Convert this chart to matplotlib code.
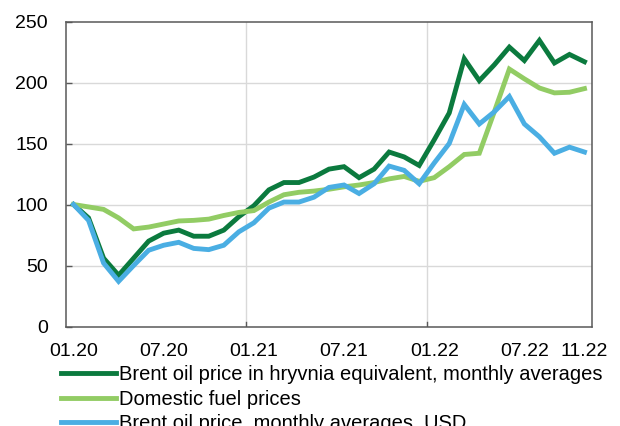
import matplotlib.pyplot as plt
import numpy

plt.rcParams['font.family'] = ['Liberation Sans', 'DejaVu Sans']

#monthly categories 01.20 ... 11.22
months = [f"{m:02d}.{y}" for y in (20, 21, 22) for m in range(1, 13)][:35]

#index values (01.20 = 100)
brent_uah = [100, 89, 56, 42, 56, 70, 76.5, 79, 74, 74, 79, 90,
             99, 112, 118, 118, 122.5, 129, 131, 122, 129, 143, 139, 132,
             153, 175, 219.5, 201.5, 214.5, 229, 218, 234.5, 216, 223, 217]
domestic_fuel = [100, 98, 96, 89, 80, 81.5, 84, 86.5, 87, 88, 91, 93.5,
                 95, 102, 108, 110, 111, 112.5, 114.5, 116, 118, 121, 123, 119,
                 122, 131, 141, 142, 176, 211, 203, 195.5, 191.5, 192, 195]
brent_usd = [100, 87, 52, 37, 50, 62.5, 66.6, 69, 64, 63, 66.6, 77.6,
             85, 97, 102, 102, 106, 114, 116, 109, 117, 131.5, 128, 117,
             134, 150, 182, 166, 176, 188.5, 166, 155.5, 142, 147, 143]

series_labels = ["Brent oil price in hryvnia equivalent, monthly averages",
                 "Domestic fuel prices",
                 "Brent oil price, monthly averages, USD"]
series_colors = ["#0B7A3E", "#92CC64", "#4AAEE3"]

xtick_labels = ["01.20", "07.20", "01.21", "07.21", "01.22", "07.22", "11.22"]
yticks = [0, 50, 100, 150, 200, 250]

fig = plt.figure(figsize=(6.2, 4.26), dpi=100)
ax = fig.add_axes([66/620, 1 - 326.5/426, (592 - 66)/620, (326.5 - 21.5)/426])

x = numpy.arange(len(months))
for values, label, colour in zip([brent_uah, domestic_fuel, brent_usd], series_labels, series_colors):
    ax.plot(x, values, color=colour, linewidth=3.5, label=label, solid_joinstyle='miter')

ax.set_xlim(-0.5, len(months) - 0.5)
ax.set_ylim(0, 250)
ax.set_yticks(yticks)
ax.set_xticks([months.index(l) for l in xtick_labels])
ax.set_xticklabels(xtick_labels)

#horizontal gridlines at each y tick, vertical lines at the year boundaries
for yv in yticks[1:-1]:
    ax.axhline(yv, color="#D9D9D9", linewidth=1, zorder=0)
for boundary in [months.index("01.21") - 0.5, months.index("01.22") - 0.5]:
    ax.axvline(boundary, color="#D9D9D9", linewidth=1, zorder=0)
    ax.plot([boundary, boundary], [0, 4], color="#595959", linewidth=1, zorder=1)

ax.tick_params(axis='y', direction='in', length=4, width=1, color="#595959", pad=13, labelsize=14)
ax.tick_params(axis='x', length=0, pad=12, labelsize=14)
for spine in ax.spines.values():
    spine.set_color("#595959")
    spine.set_linewidth(1.1)

fig.legend(loc='upper left', bbox_to_anchor=(61/620, 1 - 365/426), frameon=False,
           borderaxespad=0, borderpad=0, handlelength=2.75, handletextpad=0.15,
           labelspacing=0.28, fontsize=14.5)

fig.savefig("out.png", dpi=100)
